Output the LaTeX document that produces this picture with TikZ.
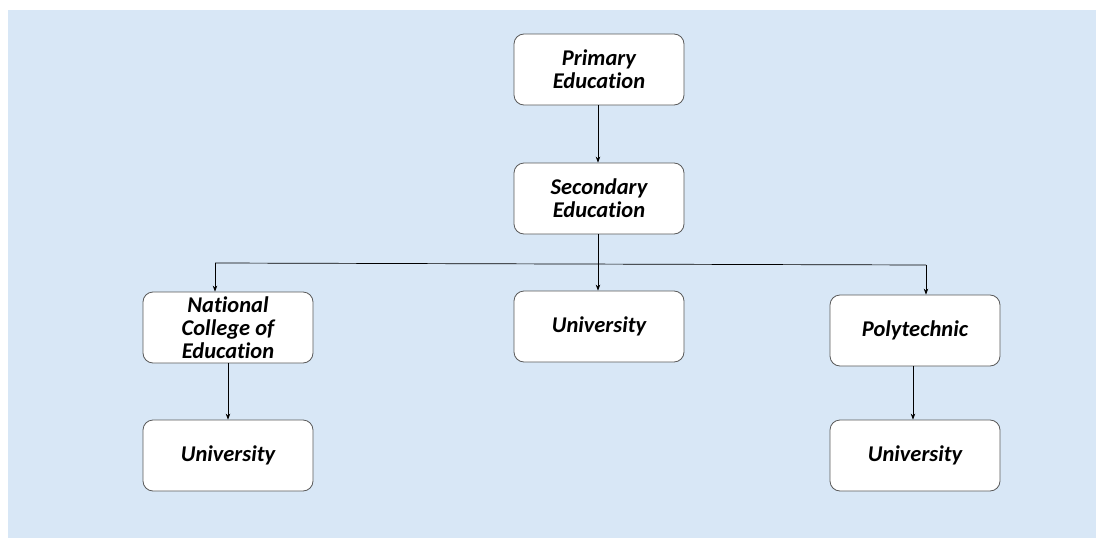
\documentclass[tikz,border=0pt]{standalone}
\usepackage{fontspec}
\setmainfont[Ligatures=NoCommon]{Carlito}
\usetikzlibrary{arrows.meta}
\definecolor{paper}{RGB}{216,231,246}
\definecolor{boxline}{RGB}{90,90,90}
\begin{document}
\begin{tikzpicture}[x=1pt,y=-1pt,
  stage/.style={draw=boxline, line width=0.8pt, fill=white, rounded corners=10pt,
    minimum width=170pt, minimum height=71pt, align=center, inner sep=2pt,
    font=\fontsize{22.5}{23}\selectfont\bfseries\itshape},
  link/.style={line width=0.7pt, -{Stealth[length=6pt,width=4.5pt]}}]
  % canvas and paper background
  \useasboundingbox (0,0) rectangle (1096,538);
  \fill[white] (0,0) rectangle (1096,538);
  \fill[paper] (8,10) rectangle (1096,538);

  % stages
  \node[stage] (pri) at (599,69.5) {Primary\\Education};
  \node[stage] (sec) at (599,198.5) {Secondary\\Education};
  \node[stage] (nce) at (228,327.5) {National\\College of\\Education};
  \node[stage] (uni) at (599,326.5) {University};
  \node[stage] (pol) at (915,330.5) {Polytechnic};
  \node[stage] (nceu) at (228,455.5) {University};
  \node[stage] (polu) at (915,455.5) {University};

  % branch points
  \coordinate (bl) at (215,263);
  \coordinate (br) at (926,265);

  % connectors
  \draw[link] (pri.south -| 598,0) -- (sec.north -| 598,0);
  \draw[link] (sec.south -| 598,0) -- (uni.north -| 598,0);
  \draw[line width=0.7pt] (bl) -- (br);
  \draw[link] (bl) -- (nce.north -| bl);
  \draw[link] (br) -- (pol.north -| br);
  \draw[link] (nce.south) -- (nceu.north);
  \draw[link] (pol.south -| 913,0) -- (polu.north -| 913,0);
\end{tikzpicture}
\end{document}
